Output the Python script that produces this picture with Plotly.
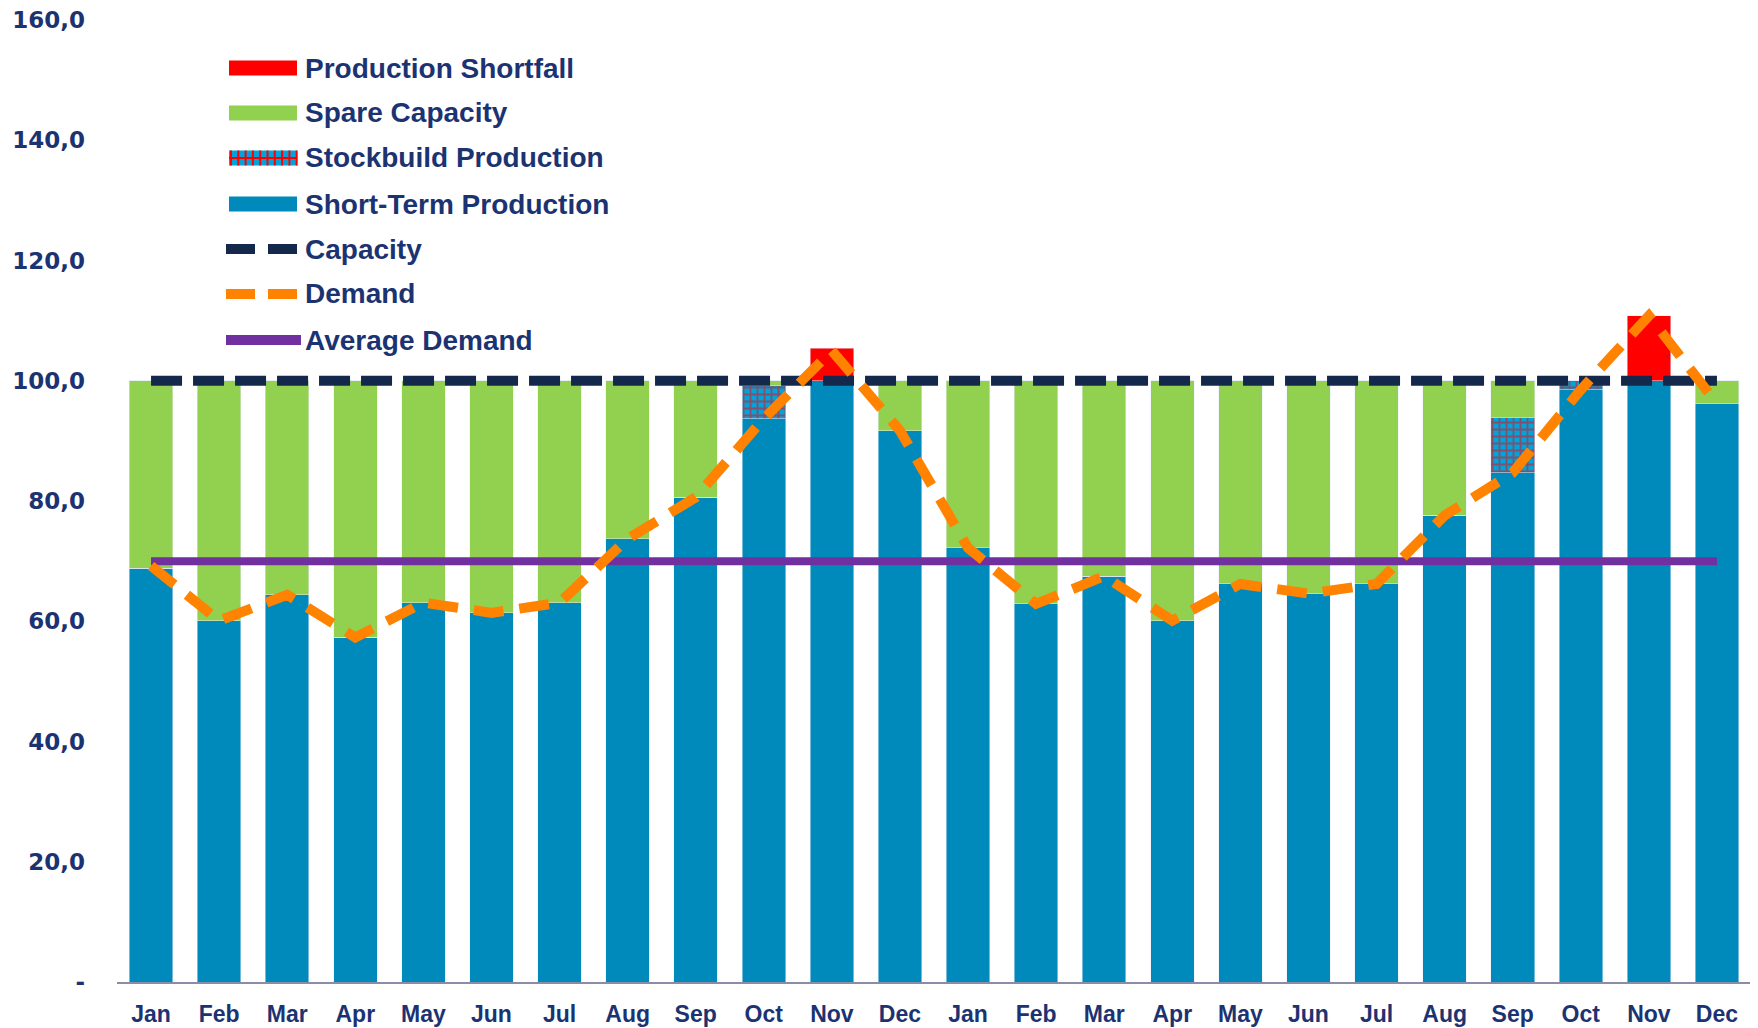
import plotly.graph_objects as go

months = ["Jan", "Feb", "Mar", "Apr", "May", "Jun", "Jul", "Aug", "Sep", "Oct", "Nov", "Dec"] * 2
x = list(range(len(months)))

short_term = [68.8, 60.1, 64.4, 57.3, 63.1, 61.4, 63.1, 73.7, 80.6, 93.7, 100.0, 91.7,
              72.2, 62.9, 67.5, 60.1, 66.2, 64.6, 66.2, 77.6, 84.7, 98.5, 100.0, 96.2]
stockbuild = [0, 0, 0, 0, 0, 0, 0, 0, 0, 5.5, 0, 0,
              0, 0, 0, 0, 0, 0, 0, 0, 9.2, 1.5, 0, 0]
spare = [31.2, 39.9, 35.6, 42.7, 36.9, 38.6, 36.9, 26.3, 19.4, 0.8, 0, 8.3,
         27.8, 37.1, 32.5, 39.9, 33.8, 35.4, 33.8, 22.4, 6.1, 0, 0, 3.8]
shortfall = [0, 0, 0, 0, 0, 0, 0, 0, 0, 0, 5.4, 0,
             0, 0, 0, 0, 0, 0, 0, 0, 0, 0, 10.8, 0]
capacity = [100.0] * 24
demand = [69.2, 60.1, 64.4, 57.3, 63.1, 61.4, 63.1, 73.7, 80.6, 93.7, 105.0, 91.7,
          72.2, 62.9, 67.5, 60.1, 66.2, 64.6, 66.2, 77.6, 84.7, 98.5, 110.8, 96.2]
avg_demand = [70.0] * 24

y_ticks = [0, 20, 40, 60, 80, 100, 120, 140, 160]
y_tick_text = ["-", "20,0", "40,0", "60,0", "80,0", "100,0", "120,0", "140,0", "160,0"]

BLUE = "#008ABC"
STOCK_BG = "#00A3DA"
GREEN = "#92D050"
RED = "#FF0000"
NAVY = "#14284B"
ORANGE = "#FF8200"
PURPLE = "#7030A0"
TEXT = "#1C3372"

# page body has an 8px margin, so the figure is a bit smaller than the window
OFF = 8
W, H = 1750, 1020
ML, MR, MT, MB = 109, 7, 12, 46

fig = go.Figure()
fig.add_trace(go.Bar(x=x, y=short_term, marker_color=BLUE, name="Short-Term Production"))
fig.add_trace(go.Bar(x=x, y=stockbuild, name="Stockbuild Production",
                     marker=dict(color=STOCK_BG,
                                 pattern=dict(shape="+", fgcolor=RED, bgcolor=STOCK_BG,
                                              size=7, solidity=0.45))))
fig.add_trace(go.Bar(x=x, y=spare, marker_color=GREEN, name="Spare Capacity"))
fig.add_trace(go.Bar(x=x, y=shortfall, marker_color=RED, name="Production Shortfall"))
fig.add_trace(go.Scatter(x=x, y=avg_demand, mode="lines", name="Average Demand",
                         line=dict(color=PURPLE, width=8)))
fig.add_trace(go.Scatter(x=x, y=capacity, mode="lines", name="Capacity",
                         line=dict(color=NAVY, width=10, dash="31px,11px")))
fig.add_trace(go.Scatter(x=x, y=demand, mode="lines", name="Demand",
                         line=dict(color=ORANGE, width=10, dash="30px,16px")))


# manual legend, positions are page pixels converted to paper coords
def px(v):
    return (v - OFF - ML) / (W - ML - MR)


def py(v):
    return (H - MB - (v - OFF)) / (H - MT - MB)


legend_rows = ["Production Shortfall", "Spare Capacity", "Stockbuild Production",
               "Short-Term Production", "Capacity", "Demand", "Average Demand"]
row_y = [68, 113, 158, 204, 249, 294, 340]
shapes = []
annots = []
for i, name in enumerate(legend_rows):
    yc = row_y[i]
    if i in (0, 1, 3):
        col = [RED, GREEN, None, BLUE][i]
        shapes.append(dict(type="rect", xref="paper", yref="paper", x0=px(229), x1=px(297),
                           y0=py(yc - 7.5), y1=py(yc + 7.5), fillcolor=col, line_width=0))
    elif i == 2:
        shapes.append(dict(type="rect", xref="paper", yref="paper", x0=px(229), x1=px(297),
                           y0=py(yc - 7.5), y1=py(yc + 7.5), fillcolor=STOCK_BG, line_width=0))
        shapes.append(dict(type="line", xref="paper", yref="paper", x0=px(229), x1=px(297),
                           y0=py(yc), y1=py(yc), line=dict(color=RED, width=2)))
        for k in range(10):
            xx = 231 + k * 7.3
            shapes.append(dict(type="line", xref="paper", yref="paper", x0=px(xx), x1=px(xx),
                               y0=py(yc - 7.5), y1=py(yc + 7.5), line=dict(color=RED, width=2)))
    elif i == 4:
        for a, b in ((226, 255), (268, 297)):
            shapes.append(dict(type="line", xref="paper", yref="paper", x0=px(a), x1=px(b),
                               y0=py(yc), y1=py(yc), line=dict(color=NAVY, width=10)))
    elif i == 5:
        for a, b in ((226, 255), (268, 297)):
            shapes.append(dict(type="line", xref="paper", yref="paper", x0=px(a), x1=px(b),
                               y0=py(yc), y1=py(yc), line=dict(color=ORANGE, width=10)))
    else:
        shapes.append(dict(type="line", xref="paper", yref="paper", x0=px(226), x1=px(301),
                           y0=py(yc), y1=py(yc), line=dict(color=PURPLE, width=10)))
    annots.append(dict(xref="paper", yref="paper", x=px(303), y=py(yc), text=name,
                       showarrow=False, xanchor="left", yanchor="middle",
                       font=dict(family="Liberation Sans, Arial, sans-serif", size=28,
                                 color=TEXT, weight="bold")))

fig.update_layout(
    width=W, height=H,
    margin=dict(l=ML, r=MR, t=MT, b=MB),
    barmode="stack", bargap=0.36,
    plot_bgcolor="white", paper_bgcolor="white",
    showlegend=False,
    shapes=shapes, annotations=annots,
    xaxis=dict(range=[-0.5, 23.5], tickvals=x, ticktext=months, showgrid=False,
               zeroline=False, showline=True, linecolor="#8C8CA8", linewidth=2,
               ticks="", ticklabelstandoff=10, automargin=False,
               ticklabeloverflow="allow",
               tickfont=dict(family="Liberation Sans, Arial, sans-serif",
                             size=23, color=TEXT, weight="bold")),
    yaxis=dict(range=[0, 160], tickvals=y_ticks, ticktext=y_tick_text, showgrid=False,
               zeroline=False, showline=False, ticks="", ticklabelstandoff=31,
               automargin=False, ticklabeloverflow="allow",
               tickfont=dict(family="DejaVu Sans, Verdana, sans-serif", size=23,
                             color=TEXT, weight="bold")),
)

fig.write_html("out.html")
